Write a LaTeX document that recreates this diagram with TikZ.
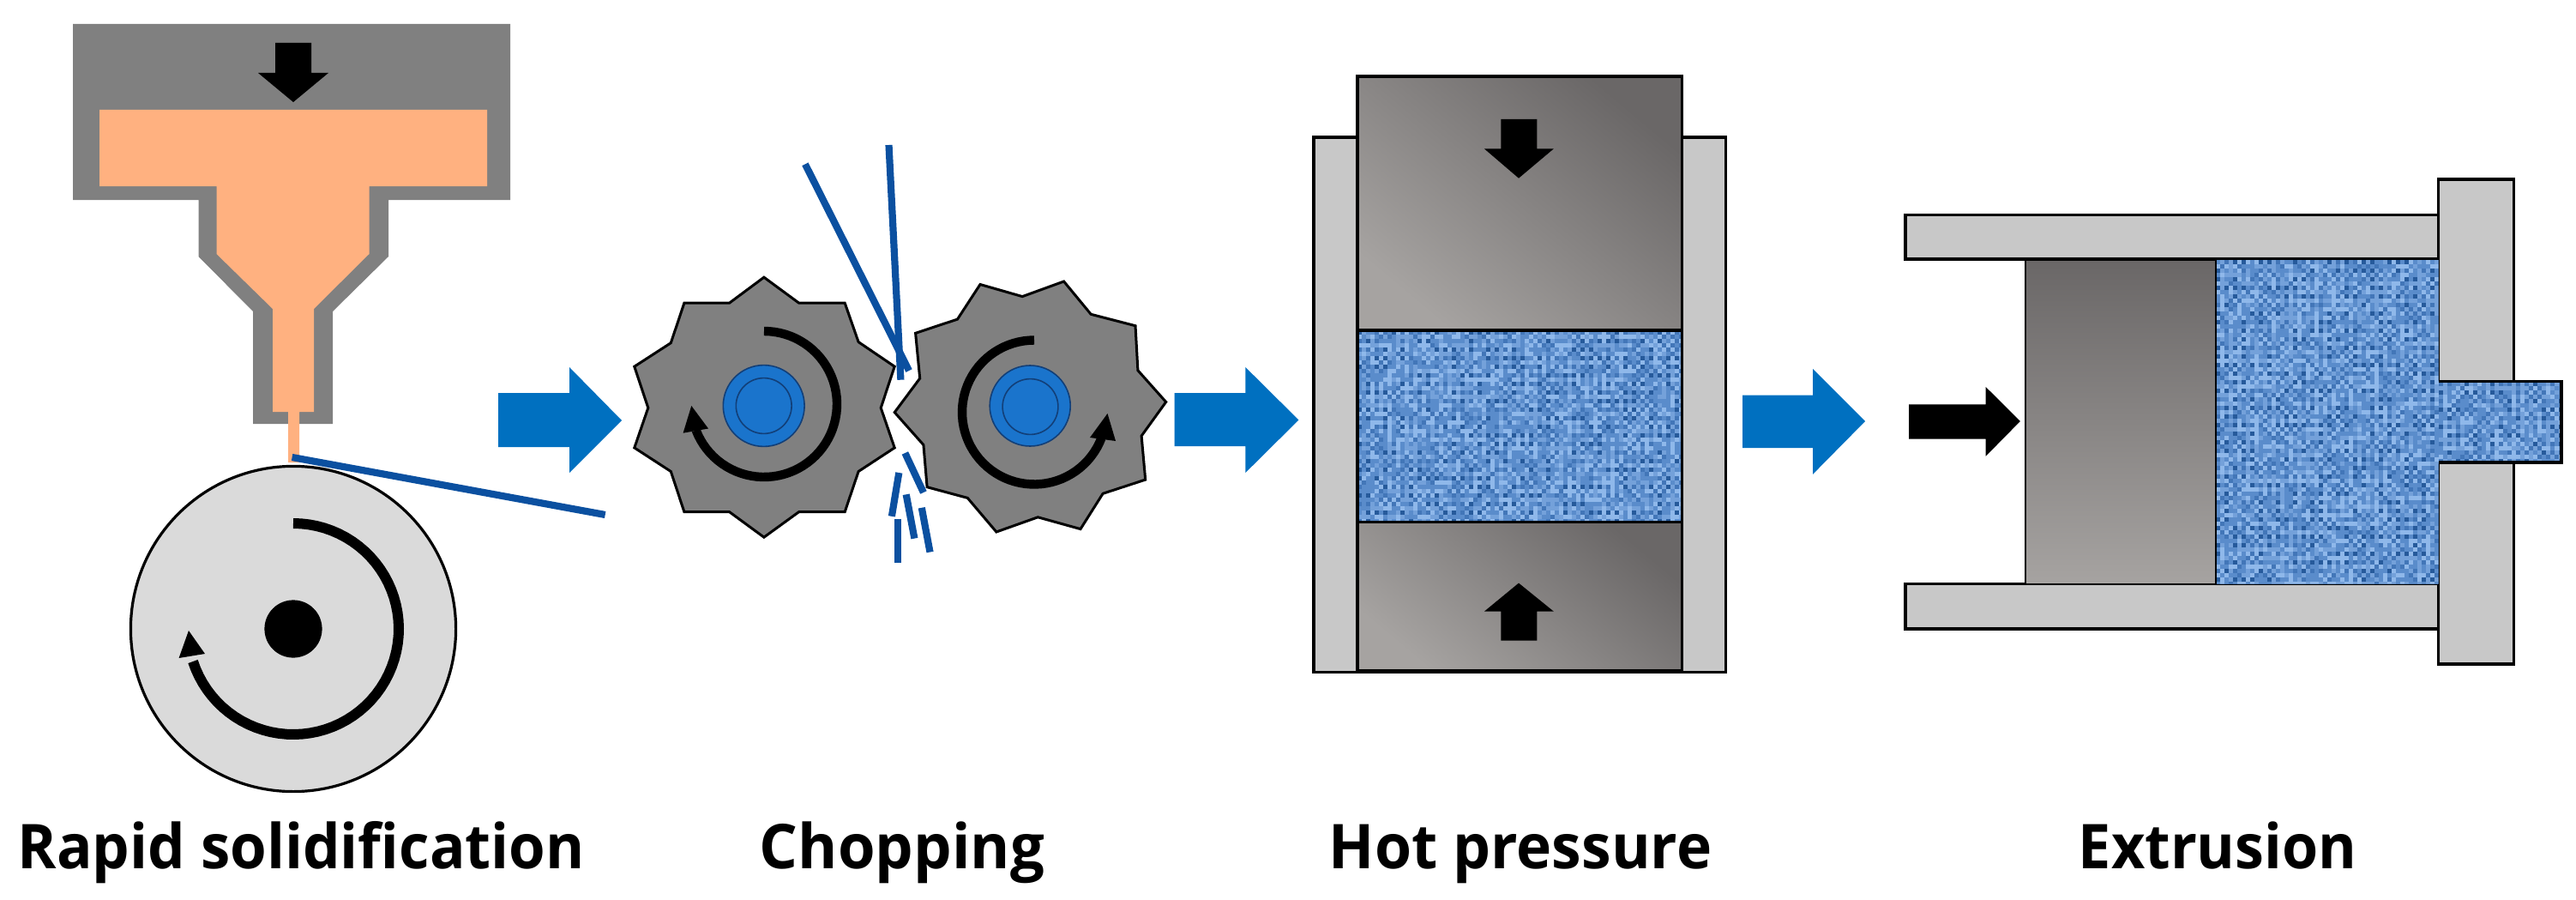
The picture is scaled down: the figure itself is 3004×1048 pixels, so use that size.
\documentclass[tikz,border=0pt]{standalone}
\usepackage{fontspec}
\setmainfont{Open Sans}[BoldFont={Open Sans Bold}]
\usepackage{graphicx}
\definecolor{diegray}{HTML}{808080}
\definecolor{melt}{HTML}{FFB180}
\definecolor{flowblue}{HTML}{0070C0}
\definecolor{ribbon}{HTML}{0B50A0}
\definecolor{disk}{HTML}{DADADA}
\definecolor{wall}{HTML}{C8C8C8}
\definecolor{hub}{HTML}{1A74CC}
\definecolor{hubline}{HTML}{123F78}
\definecolor{steeld}{HTML}{6A6767}
\definecolor{steelm}{HTML}{A09C9A}
\definecolor{steell}{HTML}{A6A3A1}
\definecolor{txa}{HTML}{265A9B}
\definecolor{txb}{HTML}{4276B8}
\definecolor{txc}{HTML}{5A8CCB}
\definecolor{txd}{HTML}{74A1DA}
\definecolor{txe}{HTML}{8FB8EA}
\tikzset{
  px/.style={x=0.25pt,y=-0.25pt},
  flowarrow/.style={fill=flowblue},
  blackarrow/.style={fill=black},
  ribbonline/.style={draw=ribbon,line width=2.05pt},
  gearbody/.style={fill=diegray,draw=black,line width=0.75pt,line join=miter},
  hubouter/.style={fill=hub,draw=hubline,line width=0.4pt},
  spin/.style={draw=black,line width=2.6pt},
  partwall/.style={fill=wall,draw=black,line width=0.9pt},
  punchshade/.style={draw=black,line width=0.9pt,shade,shading=axis,bottom color=steell,middle color=steelm,top color=steeld,shading angle=-40},
  label/.style={font=\bfseries\fontsize{18}{20}\selectfont,anchor=base west,inner sep=0pt,text=black},
}
\newcommand{\texcells}[4]{%
  \foreach \ci in {0,...,#3}{\foreach \cj in {0,...,#4}{%
    \pgfmathtruncatemacro\cellk{mod(\ci,2)+mod(\cj,2)}%
    \ifnum\cellk=0 \pgfmathtruncatemacro\cc{random(1,3)}%
    \else\ifnum\cellk=2 \pgfmathtruncatemacro\cc{random(2,5)}%
    \else \pgfmathtruncatemacro\cc{random(3,5)}\fi\fi
    \ifcase\cc\or\def\cn{txa}\or\def\cn{txb}\or\def\cn{txc}\or\def\cn{txd}\or\def\cn{txe}\fi
    \fill[\cn] ({#1+\ci*5},{#2+\cj*5}) rectangle ++(5.3,5.3);
  }}%
}
\begin{document}
\begin{tikzpicture}[px]
\useasboundingbox (0,0) rectangle (3004,1048);
\pgfmathsetseed{4242}

%%% Rapid solidification
\fill[diegray] (85,28) -- (595,28) -- (595,233) -- (453,233) -- (453,299) -- (388,363) -- (388,494) -- (295,494) -- (295,363) -- (231.5,299) -- (231.5,233) -- (85,233) -- cycle;
\fill[melt] (116,128) -- (568,128) -- (568,217) -- (430.5,217) -- (430.5,296) -- (366,360) -- (366,480) -- (349,480) -- (349,539) -- (336,539) -- (336,480) -- (318,480) -- (318,360) -- (252.5,296) -- (252.5,217) -- (116,217) -- cycle;
\fill[blackarrow] (321,50) -- (363,50) -- (363,85) -- (383,85) -- (342,119) -- (301,85) -- (321,85) -- cycle;
\draw[fill=disk,draw=black,line width=0.8pt] (342,733) circle [radius=47.4pt];
\fill[black] (342,733) circle [radius=8.4pt];
\draw[spin,line width=3pt] plot[domain=270:522,samples=60] ({342+123*cos(\x)},{733+123*sin(\x)});
\fill[blackarrow] (220,735) -- (239,762) -- (208.6,767) -- cycle;
\draw[ribbonline] (340.6,533) -- (705.7,600);
\fill[flowarrow] (581,458) -- (664,458) -- (664,428) -- (725,490) -- (664,551) -- (664,521) -- (581,521) -- cycle;

%%% Chopping
\draw[gearbody] (890.9,323.2) -- (931.7,353.2) -- (985.2,353.2) -- (1001.1,398.6) -- (1043.2,427.2) -- (1027.2,475.4) -- (1043.2,521.9) -- (1001.1,549.5) -- (985.2,596.6) -- (931.7,596.6) -- (890.9,626.2) -- (850.5,596.6) -- (797.9,596.6) -- (782.3,549.5) -- (739.8,521.9) -- (755.8,475.4) -- (739.8,427.2) -- (782.3,399.7) -- (797.9,353.2) -- (850.5,353.2) -- cycle;
\draw[hubouter] (890.7,473) circle [radius=11.85pt];
\draw[hubouter] (890.7,473) circle [radius=8.1pt];
\draw[spin] plot[domain=270:519,samples=60] ({891+85*cos(\x)},{471+85*sin(\x)});
\fill[blackarrow] (806.3,473) -- (826,499.5) -- (796.6,504.7) -- cycle;

\draw[gearbody] (1143,331.5) -- (1192.2,345.6) -- (1240.6,328) -- (1272.2,366.3) -- (1324,379.7) -- (1326.9,431.7) -- (1359.7,468.5) -- (1331.1,508.1) -- (1335.7,559.1) -- (1286.1,575.3) -- (1260,616.6) -- (1210.3,602.8) -- (1161.9,620) -- (1128.3,580.4) -- (1081.1,567.7) -- (1076.9,518.5) -- (1043.2,480.6) -- (1072.7,441) -- (1067.6,388.3) -- (1116.5,372.1) -- cycle;
\draw[hubouter] (1201.2,473) circle [radius=11.75pt];
\draw[hubouter] (1201.5,474) circle [radius=8.1pt];
\draw[spin] plot[domain=270:21,samples=60] ({1206+84*cos(\x)},{480.5+84*sin(\x)});
\fill[blackarrow] (1291.5,482) -- (1301,514) -- (1271,510) -- cycle;

\draw[ribbonline] (938.9,191.3) -- (1060,432);
\draw[ribbonline] (1036.5,169) -- (1050.4,442.7);
\draw[ribbonline] (1055.4,528) -- (1076.9,574);
\draw[ribbonline] (1048.3,551) -- (1039.9,601.8);
\draw[ribbonline] (1056.7,576.3) -- (1066.4,627.6);
\draw[ribbonline] (1074.8,591.8) -- (1084.5,643.5);
\draw[ribbonline] (1046.6,604.5) -- (1046.6,656.2);
\fill[flowarrow] (1369.5,458) -- (1452.4,458) -- (1452.4,428) -- (1514.4,489.5) -- (1452.4,551) -- (1452.4,520) -- (1369.5,520) -- cycle;

%%% Hot pressure
\draw[partwall] (1532,160) rectangle (2012.6,783.5);
\draw[punchshade] (1583,89) rectangle (1961.5,384.7);
\draw[punchshade] (1583,608.4) rectangle (1961.5,782);
\begin{scope}
  \clip (1583,384.7) rectangle (1961.5,608.4);
  \fill[txc] (1583,384.7) rectangle (1961.5,608.4);
  \texcells{1583}{384.7}{76}{45}
\end{scope}
\draw[black,line width=0.9pt] (1583,384.7) -- (1961.5,384.7) (1583,608.4) -- (1961.5,608.4) (1583,384.7) -- (1583,608.4) (1961.5,384.7) -- (1961.5,608.4);
\fill[blackarrow] (1750.3,138.8) -- (1792.3,138.8) -- (1792.3,173.3) -- (1811.9,173.3) -- (1771,207.7) -- (1730.8,173.3) -- (1750.3,173.3) -- cycle;
\fill[blackarrow] (1750.3,746.7) -- (1792.3,746.7) -- (1792.3,712.7) -- (1811.9,712.7) -- (1771,679.6) -- (1730.8,712.7) -- (1750.3,712.7) -- cycle;
\fill[flowarrow] (2032,460.6) -- (2114,460.6) -- (2114,430) -- (2175,491) -- (2114,552.8) -- (2114,522) -- (2032,522) -- cycle;

%%% Extrusion
\draw[partwall] (2222,250.5) rectangle (2843.6,302);
\draw[partwall] (2222,680.6) rectangle (2843.6,732.7);
\draw[partwall] (2843.6,209) rectangle (2931.5,774);
\begin{scope}
  \clip (2583.7,303) -- (2843.6,303) -- (2843.6,444.5) -- (2986.7,444.5) -- (2986.7,539) -- (2843.6,539) -- (2843.6,680.6) -- (2583.7,680.6) -- cycle;
  \fill[txc] (2583.7,303) rectangle (2986.7,680.6);
  \texcells{2583.7}{303}{52}{76}
  \texcells{2843.6}{444.5}{29}{19}
\end{scope}
\draw[black,line width=0.9pt] (2843.6,444.5) -- (2986.7,444.5) -- (2986.7,539) -- (2843.6,539);
\draw[draw=black,line width=0.5pt,shade,shading=axis,top color=steeld,bottom color=steell] (2362,303) rectangle (2583.7,680.6);
\fill[blackarrow] (2226,471.3) -- (2315.7,471.3) -- (2315.7,451) -- (2355.8,491) -- (2315.7,531.7) -- (2315.7,511.5) -- (2226,511.5) -- cycle;

%%% Labels
\node[label] (lrapid) at (20,1012) {\scalebox{0.958}[1]{Rapid solidification}};
\node[label] (lchop) at (885,1012) {\scalebox{0.98}[1]{Chopping}};
\node[label] (lhot) at (1549,1012) {\scalebox{0.967}[1]{Hot pressure}};
\node[label] (lext) at (2423,1012) {\scalebox{0.947}[1]{Extrusion}};
\end{tikzpicture}
\end{document}
